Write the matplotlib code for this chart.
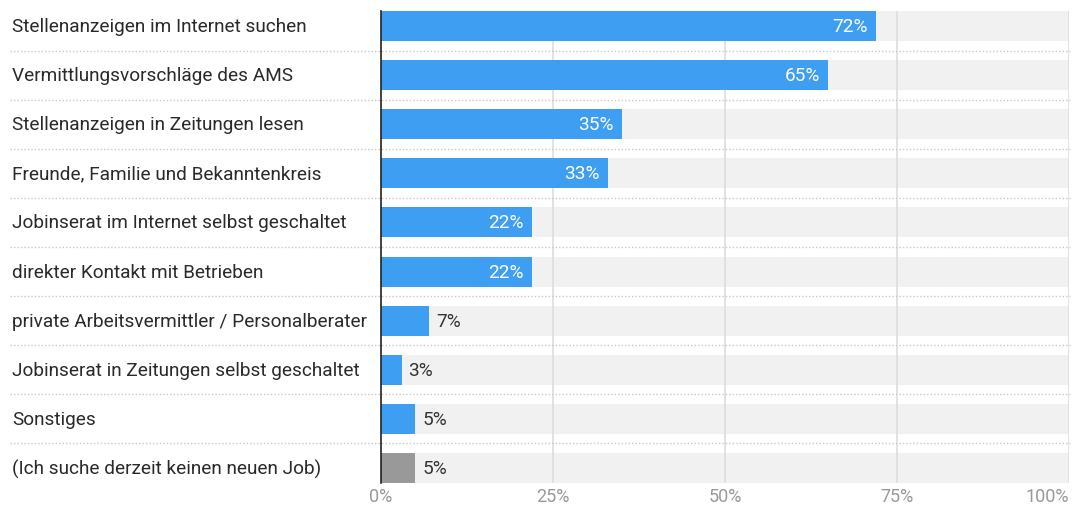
import matplotlib
matplotlib.use('Agg')
from matplotlib import pyplot
from matplotlib import transforms
import numpy as np

pyplot.rcParams['font.family'] = ['Roboto', 'DejaVu Sans']

labels = ['Stellenanzeigen im Internet suchen',
          'Vermittlungsvorschläge des AMS',
          'Stellenanzeigen in Zeitungen lesen',
          'Freunde, Familie und Bekanntenkreis',
          'Jobinserat im Internet selbst geschaltet',
          'direkter Kontakt mit Betrieben',
          'private Arbeitsvermittler / Personalberater',
          'Jobinserat in Zeitungen selbst geschaltet',
          'Sonstiges',
          '(Ich suche derzeit keinen neuen Job)']
values = [72, 65, 35, 33, 22, 22, 7, 3, 5, 5]
ticks = [0, 25, 50, 75, 100]
tick_labels = ['0%', '25%', '50%', '75%', '100%']

blue = '#3d9ef2'
colors = [blue] * 9 + ['#999999']
fs = 13.7

fig = pyplot.figure(figsize=(10.79, 5.10), dpi=100)
ax = fig.add_axes([381 / 1079, 26 / 510, 688 / 1079, 472 / 510])

y = np.arange(len(values))
h = 30 / 49
ax.barh(y, [100] * len(values), height=h, color='#f1f1f1', zorder=1)
for t in ticks[1:]:
    ax.axvline(t, color='#dddddd', linewidth=1.2, zorder=2)
ax.barh(y, values, height=h, color=colors, zorder=3)

for i, v in enumerate(values):
    if v >= 20:
        ax.text(v - 1.2, i, '%d%%' % v, ha='right', va='center',
                color='white', fontsize=fs, zorder=4)
    else:
        ax.text(v + 1.0, i, '%d%%' % v, ha='left', va='center',
                color='#333333', fontsize=fs, zorder=4)

# row labels on the left side of the figure
trans = transforms.blended_transform_factory(fig.transFigure, ax.transData)
for i, name in enumerate(labels):
    ax.text(12 / 1079, i, name, transform=trans, ha='left', va='center',
            color='#2a2a2a', fontsize=fs, clip_on=False)

# dotted separators between rows
for i in range(len(values) - 1):
    ax.plot([10 / 1079, 1070 / 1079], [i + 0.5, i + 0.5], transform=trans,
            color='#c8c8c8', linestyle=(0, (1, 1.5)), linewidth=1,
            clip_on=False, zorder=5)

ax.set_xlim(0, 100)
ax.set_ylim(len(values) - 1 + h / 2, -h / 2)
ax.set_xticks(ticks)
ax.set_xticklabels(tick_labels, color='#999999', fontsize=13)
ax.get_xticklabels()[-1].set_horizontalalignment('right')
ax.set_yticks([])
ax.tick_params(axis='x', length=0, pad=3)
for s in ['top', 'right', 'bottom']:
    ax.spines[s].set_visible(False)
ax.spines['left'].set_color('#222222')
ax.spines['left'].set_linewidth(1.2)
ax.spines['left'].set_zorder(6)

pyplot.savefig('out.png', dpi=100)
